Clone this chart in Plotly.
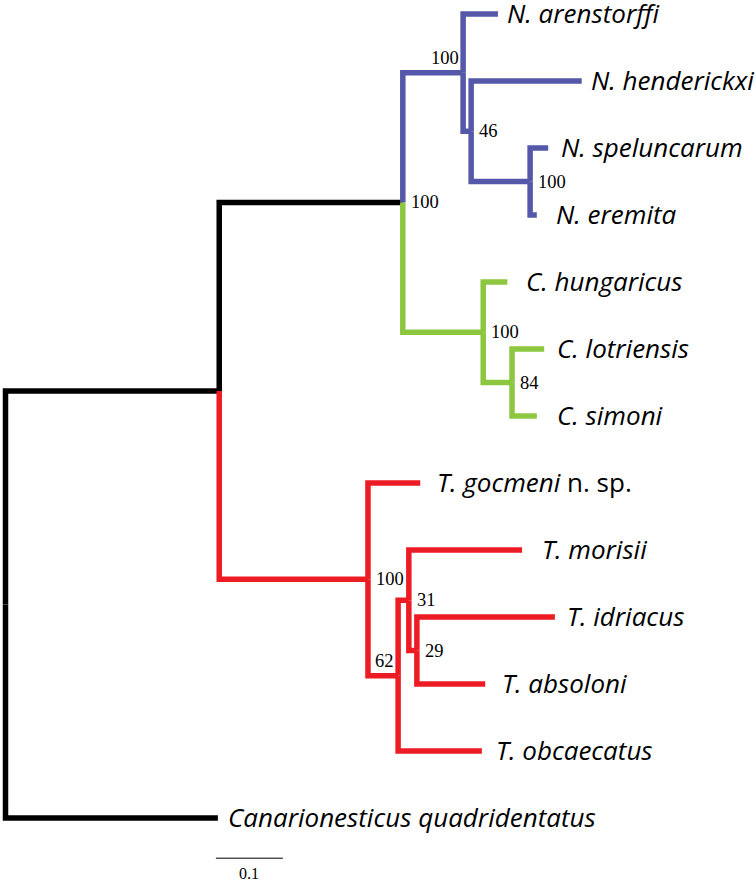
import plotly.graph_objects as go

# tips, top to bottom
tip_names = ["N. arenstorffi", "N. henderickxi", "N. speluncarum", "N. eremita",
             "C. hungaricus", "C. lotriensis", "C. simoni",
             "T. gocmeni", "T. morisii", "T. idriacus", "T. absoloni", "T. obcaecatus",
             "Canarionesticus quadridentatus"]
tip_depth = [0.735, 0.860, 0.810, 0.793,
             0.749, 0.804, 0.793,
             0.619, 0.771, 0.820, 0.716, 0.711,
             0.317]
tip_parent = ["N", "n46", "nSE", "nSE", "C", "n84", "n84",
              "T", "n31", "n29", "n29", "n62", "root"]
tip_clade = ["N", "N", "N", "N", "C", "C", "C", "T", "T", "T", "T", "T", "out"]

# internal nodes
node_names = ["root", "A", "upper", "N", "n46", "nSE", "C", "n84", "T", "n62", "n31", "n29"]
node_depth = [0.0, 0.319, 0.593, 0.683, 0.695, 0.783, 0.713, 0.756, 0.541, 0.586, 0.602, 0.614]
node_parent = [None, "root", "A", "upper", "N", "n46", "upper", "C", "A", "T", "n62", "n31"]
node_clade = ["out", "out", "out", "N", "N", "N", "C", "C", "T", "T", "T", "T"]
node_support = [None, None, "100", "100", "46", "100", "100", "84", "100", "62", "31", "29"]

scale_len = 0.1

colors = {"N": "#5558A8", "C": "#8DC63F", "T": "#ED1C24", "out": "#000000"}
support_left = {"N", "n62"}
label_gap = [10, 10, 14, 20, 20, 14, 21, 18, 21, 13, 18, 15, 11]

# y of tips = row order, y of nodes = midpoint of children
ypos = {}
for i, n in enumerate(tip_names):
    ypos[n] = i
xpos = dict(zip(tip_names, tip_depth))
xpos.update(dict(zip(node_names, node_depth)))
children = {n: [] for n in node_names}
for n, p in zip(tip_names, tip_parent):
    children[p].append(n)
for n, p in zip(node_names, node_parent):
    if p:
        children[p].append(n)


def gety(n):
    if n not in ypos:
        ys = [gety(c) for c in children[n]]
        ypos[n] = (min(ys) + max(ys)) / 2
    return ypos[n]


for n in node_names:
    gety(n)

parent = dict(zip(tip_names, tip_parent))
parent.update({n: p for n, p in zip(node_names, node_parent) if p})
clade = dict(zip(tip_names, tip_clade))
clade.update(dict(zip(node_names, node_clade)))

fig = go.Figure()
for child, p in parent.items():
    fig.add_trace(go.Scatter(
        x=[xpos[p], xpos[p], xpos[child]],
        y=[ypos[p], ypos[child], ypos[child]],
        mode="lines", line=dict(color=colors[clade[child]], width=5.5),
        cliponaxis=False, hoverinfo="skip", showlegend=False))

# tip labels
for i, n in enumerate(tip_names):
    if n == "T. gocmeni":
        txt = "<i>T. gocmeni</i> n. sp."
    else:
        txt = "<i>" + n + "</i>"
    fig.add_annotation(x=xpos[n], y=ypos[n], text=txt, showarrow=False,
                       xanchor="left", yanchor="middle", xshift=label_gap[i] - 3, yshift=1,
                       font=dict(family="Open Sans", size=26, color="black"))

# support values
for n, s in zip(node_names, node_support):
    if s is None:
        continue
    if n in support_left:
        fig.add_annotation(x=xpos[n], y=ypos[n], text=s, showarrow=False,
                           xanchor="right", yanchor="bottom", xshift=-2, yshift=3,
                           font=dict(family="Liberation Serif", size=18.5, color="black"))
    else:
        fig.add_annotation(x=xpos[n], y=ypos[n], text=s, showarrow=False,
                           xanchor="left", yanchor="middle", xshift=6,
                           font=dict(family="Liberation Serif", size=18.5, color="black"))

# scale bar
sb_x0 = 0.314
sb_y = 12.6
fig.add_trace(go.Scatter(x=[sb_x0, sb_x0 + scale_len], y=[sb_y, sb_y], mode="lines",
                         line=dict(color="black", width=1), cliponaxis=False,
                         hoverinfo="skip", showlegend=False))
fig.add_annotation(x=sb_x0 + scale_len / 2, y=sb_y, text=str(scale_len), showarrow=False,
                   yanchor="top", yshift=-5,
                   font=dict(family="Liberation Serif", size=16, color="black"))

fig.update_layout(
    width=756, height=881,
    margin=dict(l=0, r=0, t=0, b=0),
    paper_bgcolor="white", plot_bgcolor="white",
    xaxis=dict(range=[-5.5 / 670, 750.5 / 670], visible=False, fixedrange=True),
    yaxis=dict(range=[867 / 67, -14 / 67], visible=False, fixedrange=True),
)

# drop the default page margin so the figure fills the window
fig.write_html("out.html", config={"displayModeBar": False},
               post_script="document.body.style.margin='0';")
